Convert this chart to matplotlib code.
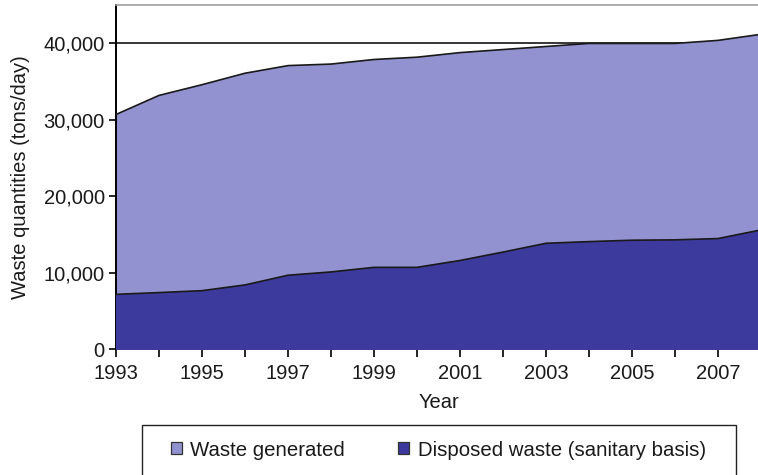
import matplotlib
matplotlib.use("Agg")
import matplotlib.pyplot as plt
from matplotlib.patches import Patch, Rectangle
from matplotlib.ticker import FixedLocator, FuncFormatter, MultipleLocator

years = list(range(1993, 2009))
generated = [30700, 33200, 34600, 36100, 37100, 37300, 37900, 38200,
             38800, 39200, 39600, 40000, 40000, 40000, 40400, 41200]
disposed = [7170, 7400, 7650, 8400, 9670, 10100, 10700, 10700,
            11600, 12700, 13850, 14070, 14250, 14300, 14470, 15600]
labelled_years = [1993, 1995, 1997, 1999, 2001, 2003, 2005, 2007]

LIGHT = "#9292d0"
DARK = "#3c3a9c"
INK = "#1a1a1a"

plt.rcParams["font.family"] = ["Liberation Sans", "DejaVu Sans"]

fig = plt.figure(figsize=(7.58, 4.75), dpi=100)
ax = fig.add_axes([0.153, 0.265, 0.851, 0.724])

ax.fill_between(years, 0, generated, color=LIGHT, zorder=2)
ax.plot(years, generated, color=INK, lw=1.2, zorder=3)
ax.fill_between(years, 0, disposed, color=DARK, zorder=4)
ax.plot(years, disposed, color=INK, lw=1.2, zorder=5)

ax.set_xlim(1993, 2008)
ax.set_ylim(0, 45000)
ax.xaxis.set_major_locator(FixedLocator(labelled_years))
ax.xaxis.set_minor_locator(MultipleLocator(1))
ax.yaxis.set_major_locator(MultipleLocator(10000))
ax.yaxis.set_major_formatter(FuncFormatter(lambda v, p: f"{int(v):,}"))
ax.grid(axis="y", color="black", lw=1.1, zorder=1)
ax.set_axisbelow(True)

ax.tick_params(axis="both", which="both", direction="out", color="black",
               width=1.2, labelsize=14.5, labelcolor=INK)
ax.tick_params(axis="x", which="both", length=6, pad=5)
ax.tick_params(axis="y", length=5, pad=3)

ax.spines["left"].set_linewidth(1.4)
ax.spines["bottom"].set_linewidth(1.4)
ax.spines["top"].set_color("#a0a0a0")
ax.spines["top"].set_linewidth(1.2)
ax.spines["right"].set_visible(False)

ax.set_xlabel("Year", fontsize=14.5, color=INK, labelpad=7)
ax.set_ylabel("Waste quantities (tons/day)", fontsize=14.5, color=INK, labelpad=10)

# legend box runs off the bottom of the figure
fig.patches.append(Rectangle((142 / 758, -0.05), 594 / 758, 0.05 + 50 / 475,
                             transform=fig.transFigure, facecolor="white",
                             edgecolor="#222222", lw=1.0))

handles = [Patch(facecolor=LIGHT, edgecolor="#333333", lw=0.9),
           Patch(facecolor=DARK, edgecolor="#333333", lw=0.9)]
leg = fig.legend(handles, ["Waste generated", "Disposed waste (sanitary basis)"],
                 ncol=2, loc="center left", bbox_to_anchor=(171 / 758, 1 - 450 / 475),
                 frameon=False, fontsize=14.7,
                 handlelength=0.55, handleheight=0.55, handletextpad=0.4,
                 columnspacing=2.6, borderpad=0, borderaxespad=0)
for t in leg.get_texts():
    t.set_color(INK)

fig.savefig("out.png", dpi=100)
